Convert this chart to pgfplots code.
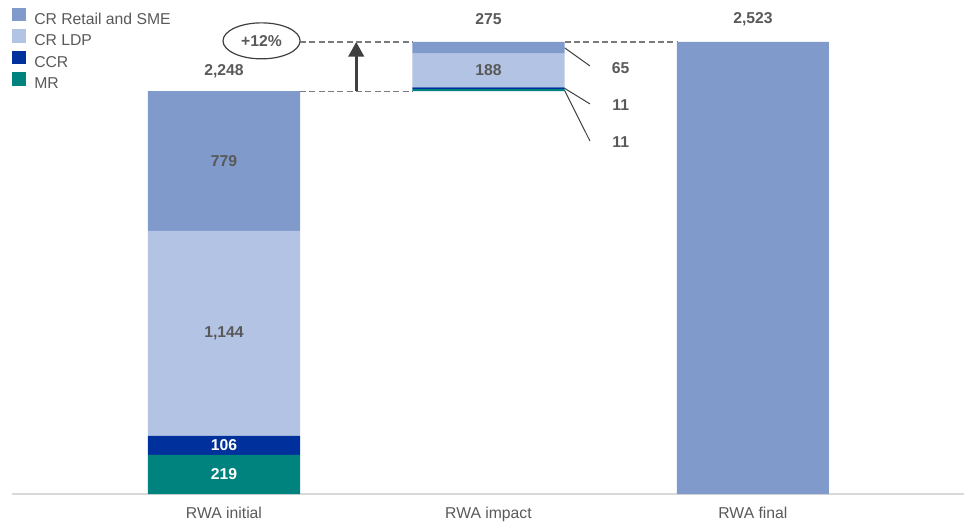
\documentclass[border=0pt]{standalone}
\usepackage{fontspec}
\setmainfont{Liberation Sans}
\usepackage{pgfplots}
\pgfplotsset{compat=1.18}
\usetikzlibrary{arrows.meta}
\definecolor{retail}{HTML}{7F9ACB}
\definecolor{ldp}{HTML}{B3C3E3}
\definecolor{ccr}{HTML}{00309C}
\definecolor{mr}{HTML}{00827F}
\definecolor{txt}{HTML}{595959}
\definecolor{dark}{HTML}{404040}
\definecolor{axisgray}{HTML}{D9D9D9}
\newcommand{\chartfont}{\fontsize{11.8pt}{14pt}\selectfont}
\tikzset{val/.style={font=\chartfont\bfseries, text=txt}}

\begin{document}
\begin{tikzpicture}
\useasboundingbox (0,0) rectangle (723.75pt,394.5pt);
\begin{axis}[
  at={(9pt,24pt)}, anchor=south west,
  scale only axis, width=714pt, height=370.5pt,
  xmin=-0.8015, xmax=2.798, ymin=0, ymax=2757,
  ybar stacked, bar width=0.575,
  axis x line=bottom, axis y line=none,
  x axis line style={-, draw=axisgray, line width=1pt},
  xtick={0,1,2}, xticklabels={RWA initial, RWA impact, RWA final},
  xtick style={draw=none}, ytick=\empty,
  xticklabel style={font=\chartfont, text=txt, yshift=-4pt},
  clip=false,
  reverse legend,
  legend cell align=left,
  legend image code/.code={\fill[#1] (0pt,-0.7pt) rectangle (10pt,9.3pt);},
  legend style={at={(axis description cs:0,1)}, anchor=north west,
    yshift=-5.8pt, draw=none, fill=none, inner sep=0pt,
    font=\chartfont, text=txt, row sep=0.8pt, column sep=4.5pt,
    nodes={inner ysep=0pt, inner xsep=2pt, text height=9pt, text depth=3pt}},
]
% invisible base for the floating impact bar
\addplot[draw=none, fill=none, forget plot] coordinates {(0,0) (1,2248) (2,0)};
\addplot[fill=mr, draw=none] coordinates {(0,219) (1,11) (2,0)};
\addlegendentry{MR}
\addplot[fill=ccr, draw=none] coordinates {(0,106) (1,11) (2,0)};
\addlegendentry{CCR}
\addplot[fill=ldp, draw=none] coordinates {(0,1144) (1,188) (2,0)};
\addlegendentry{CR LDP}
\addplot[fill=retail, draw=none] coordinates {(0,779) (1,65) (2,2523)};
\addlegendentry{CR Retail and SME}

% connectors
\draw[txt!80, dash pattern=on 4.5pt off 2.5pt, line width=0.9pt]
  (axis cs:0.2875,2523) -- (axis cs:0.7125,2523)
  (axis cs:1.2875,2523) -- (axis cs:1.7125,2523)
  (axis cs:0.2875,2248) -- (axis cs:0.7125,2248);
\draw[dark, line width=2.2pt, -{Triangle[length=11pt,width=11.5pt]}]
  (axis cs:0.5,2248) -- (axis cs:0.5,2523);
\draw[dark, line width=0.9pt] (axis cs:0.142,2529) ellipse [x radius=28.9pt, y radius=13.5pt];

% leader lines
\draw[dark, line width=0.75pt]
  (axis cs:1.2875,2490.5) -- (axis cs:1.3837,2389)
  (axis cs:1.2875,2264.5) -- (axis cs:1.3837,2177)
  (axis cs:1.2875,2253.5) -- (axis cs:1.3837,1970);

% label positions, drawn after the axis so they sit above the bars
\coordinate (pct) at (axis cs:0.142,2529);
\coordinate (t0) at (axis cs:0,2361);
\coordinate (t1) at (axis cs:1,2651);
\coordinate (t2) at (axis cs:2,2651);
\coordinate (s4) at (axis cs:0,1858.5);
\coordinate (s3) at (axis cs:0,897);
\coordinate (s2) at (axis cs:0,272);
\coordinate (s1) at (axis cs:0,109.5);
\coordinate (i3) at (axis cs:1,2364);
\coordinate (r4) at (axis cs:1.5,2378);
\coordinate (r2) at (axis cs:1.5,2171);
\coordinate (r1) at (axis cs:1.5,1965);
\end{axis}
\node[val] at (pct) {+12\%};
\node[val] at (t0) {2,248};
\node[val] at (t1) {275};
\node[val] at (t2) {2,523};
\node[val] at (s4) {779};
\node[val] at (s3) {1,144};
\node[val, text=white] at (s2) {106};
\node[val, text=white] at (s1) {219};
\node[val] at (i3) {188};
\node[val] at (r4) {65};
\node[val] at (r2) {11};
\node[val] at (r1) {11};
\end{tikzpicture}
\end{document}
